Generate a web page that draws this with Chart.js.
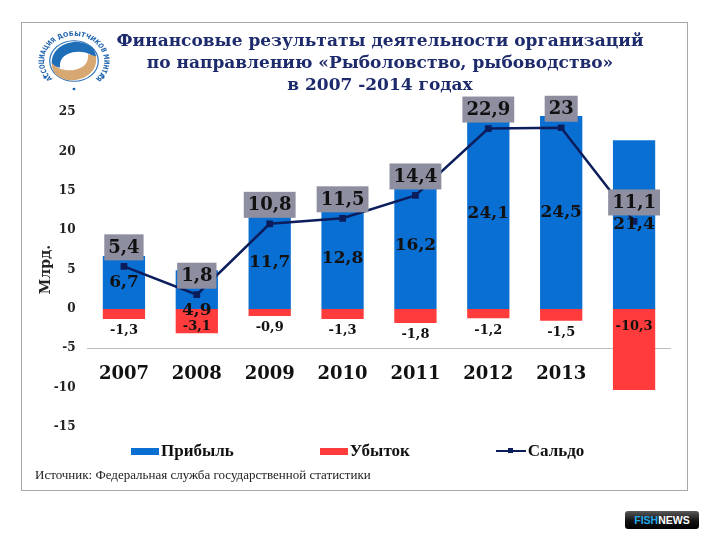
<!DOCTYPE html>
<html><head><meta charset="utf-8">
<script src="https://cdn.jsdelivr.net/npm/chart.js@4.4.1/dist/chart.umd.min.js"></script>
<style>
html,body{margin:0;padding:0;background:#fff;}
body{width:709px;height:540px;position:relative;overflow:hidden;}
#frame{position:absolute;left:21px;top:22px;width:665px;height:467px;border:1.5px solid #a9a9a9;}
#chart{position:absolute;left:0;top:0;}
#title{position:absolute;left:105px;width:550px;top:29px;text-align:center;font-family:"DejaVu Serif";font-weight:bold;font-size:17px;line-height:22px;color:#1d2a6c;white-space:nowrap;}
#logo{position:absolute;left:37px;top:30px;width:74px;height:62px;}
#legend{position:absolute;left:131px;top:441px;display:flex;gap:86px;align-items:center;font-family:"Liberation Serif";font-weight:bold;font-size:17px;color:#111;}
#legend .item{display:flex;align-items:center;gap:2px;}
#source{position:absolute;left:35px;top:467px;font-family:"Liberation Serif";font-size:13px;color:#222;white-space:nowrap;}
#badge{position:absolute;left:625px;top:511px;width:74px;height:18px;border-radius:3px;background:linear-gradient(#5a5a5a,#111 55%,#000);font-family:"Liberation Sans";font-weight:bold;font-size:10.5px;line-height:18px;text-align:center;color:#fff;letter-spacing:0;}
#badge span{color:#22a7e8;}
</style>
</head><body>
<div id="frame"></div>
<canvas id="chart" width="709" height="540"></canvas>
<svg id="logo" viewBox="0 0 64 64" preserveAspectRatio="none">
  <defs><path id="arc" d="M13.6,50.4 A26,26 0 1,1 50.4,50.4"/></defs>
  <text font-family="DejaVu Sans" font-weight="bold" font-size="6.5" fill="#1f63ad"><textPath href="#arc" textLength="122" lengthAdjust="spacingAndGlyphs">АССОЦИАЦИЯ ДОБЫТЧИКОВ МИНТАЯ</textPath></text>
  <circle cx="32" cy="32" r="21" fill="#fff" stroke="#2b6fb7" stroke-width="1"/>
  <path d="M13,37 C11,21 23,12 35,12 C46,13 52,21 51,30 C47,24 39,21 31,23 C23,25 19,31 20,39 Z" fill="#1f6fb8"/>
  <path d="M13,37 C11,21 23,12 35,12 C46,13 52,21 51,30 C47,24 39,21 31,23 C23,25 19,31 20,39 Z" fill="#d8a873" transform="rotate(180 32 32)"/>
  <circle cx="7" cy="49" r="1.3" fill="#1f63ad"/><circle cx="57" cy="49" r="1.3" fill="#1f63ad"/><circle cx="32" cy="61" r="1.3" fill="#1f63ad"/>
</svg>
<div id="title">Финансовые результаты деятельности организаций<br>по направлению «Рыболовство, рыбоводство»<br>в 2007 -2014 годах</div>
<div id="legend"></div>
<div id="source">Источник: Федеральная служба государственной статистики</div>
<div id="badge"><span>FISH</span>NEWS</div>
<script>
const categories = ['2007','2008','2009','2010','2011','2012','2013','2014'];
const xTickLabels = ['2007','2008','2009','2010','2011','2012','2013',''];
const profit = [6.7, 4.9, 11.7, 12.8, 16.2, 24.1, 24.5, 21.4];
const loss = [-1.3, -3.1, -0.9, -1.3, -1.8, -1.2, -1.5, -10.3];
const balance = [5.4, 1.8, 10.8, 11.5, 14.4, 22.9, 23, 11.1];
const seriesNames = ['Прибыль', 'Убыток', 'Сальдо'];
const yMin = -15, yMax = 25, yStep = 5;

const fmt = v => String(v).replace('.', ',');
const SERIF = '"DejaVu Serif", serif';

const labelPlugin = {
  id: 'valueLabels',
  afterDatasetsDraw(chart) {
    const ctx = chart.ctx;
    ctx.save();
    ctx.textAlign = 'center';
    ctx.textBaseline = 'middle';
    const boxFont = 'bold 18px ' + SERIF;
    ctx.font = boxFont;
    const boxes = chart.getDatasetMeta(2).data.map((pt, i) => {
      const t = fmt(balance[i]);
      const w = ctx.measureText(t).width + 8;
      const h = 26;
      return {x: pt.x - w / 2, y: pt.y - 6 - h, w, h, t, cx: pt.x};
    });
    ctx.fillStyle = '#111';
    ctx.font = 'bold 17px ' + SERIF;
    chart.getDatasetMeta(0).data.forEach((el, i) => {
      const t = fmt(profit[i]);
      const th = 14;
      let y = (el.y + el.base) / 2;
      const b = boxes[i];
      if (y - th / 2 < b.y + b.h && y + th / 2 > b.y) y = el.base + 2;
      ctx.fillText(t, el.x, y);
    });
    ctx.font = 'bold 13px ' + SERIF;
    chart.getDatasetMeta(1).data.forEach((el, i) => {
      const h = el.y - el.base;
      const y = h > 20 ? el.base + 18 : el.y + 12;
      ctx.fillText(fmt(loss[i]), el.x, y);
    });
    ctx.font = boxFont;
    boxes.forEach(b => {
      ctx.fillStyle = '#8e8ea1';
      ctx.fillRect(b.x, b.y, b.w, b.h);
      ctx.fillStyle = '#111';
      ctx.fillText(b.t, b.cx, b.y + b.h / 2 + 1);
    });
    ctx.restore();
  }
};

const chart = new Chart(document.getElementById('chart'), {
  type: 'bar',
  data: {
    labels: categories,
    datasets: [
      {label: seriesNames[0], data: profit, backgroundColor: '#0a6fd2', grouped: false, barPercentage: 0.58, categoryPercentage: 1, order: 3},
      {label: seriesNames[1], data: loss, backgroundColor: '#ff3b3b', grouped: false, barPercentage: 0.58, categoryPercentage: 1, order: 2},
      {type: 'line', label: seriesNames[2], data: balance, borderColor: '#0c1d5c', backgroundColor: '#0c1d5c', borderWidth: 2.5, pointStyle: 'rect', pointRadius: 3, pointBackgroundColor: '#0c1d5c', tension: 0, order: 1}
    ]
  },
  options: {
    responsive: false,
    animation: false,
    devicePixelRatio: 1,
    layout: {padding: {left: 21.5, right: 38.5, top: 112, bottom: 113}},
    plugins: {legend: {display: false}, tooltip: {enabled: false}},
    scales: {
      x: {
        position: {y: -5},
        offset: true,
        grid: {display: false, drawTicks: false},
        border: {display: true, color: '#bdbdbd', width: 1},
        ticks: {font: {family: SERIF, weight: 'bold', size: 18}, color: '#111', padding: 15, maxRotation: 0, autoSkip: false,
          callback: (v, i) => xTickLabels[i]}
      },
      y: {
        min: yMin, max: yMax,
        ticks: {stepSize: yStep, font: {family: SERIF, weight: 'bold', size: 12}, color: '#222', padding: 12},
        grid: {display: false, drawTicks: false},
        border: {display: false},
        title: {display: true, text: 'Млрд.', font: {family: SERIF, weight: 'bold', size: 14}, color: '#222', padding: {top: 16, bottom: 0}},
        afterFit: s => { s.width = 66; }
      }
    }
  },
  plugins: [labelPlugin]
});

// HTML legend built from the chart's datasets
const legend = document.getElementById('legend');
chart.data.datasets.forEach(ds => {
  const item = document.createElement('div');
  item.className = 'item';
  const sw = document.createElement('div');
  if (ds.type === 'line') {
    sw.style.cssText = 'width:30px;height:2.5px;background:' + ds.borderColor + ';position:relative;';
    const m = document.createElement('div');
    m.style.cssText = 'position:absolute;left:12px;top:-1.5px;width:5px;height:5px;background:' + ds.borderColor + ';';
    sw.appendChild(m);
  } else {
    sw.style.cssText = 'width:28px;height:7px;background:' + ds.backgroundColor + ';';
  }
  const tx = document.createElement('span');
  tx.textContent = ds.label;
  item.appendChild(sw); item.appendChild(tx);
  legend.appendChild(item);
});
</script>
</body></html>
